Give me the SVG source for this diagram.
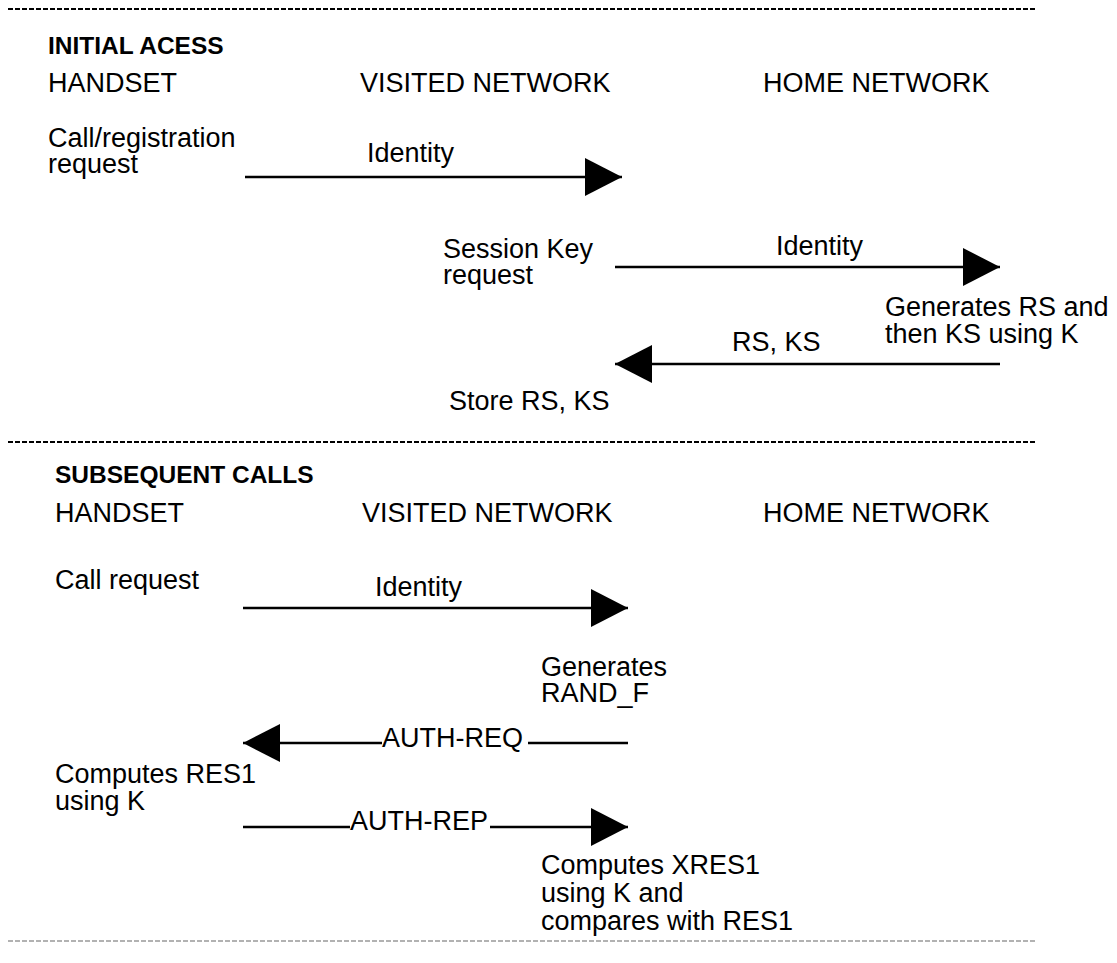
<svg xmlns="http://www.w3.org/2000/svg" width="1117" height="963" viewBox="0 0 1117 963">
<style>
text{font-family:"Liberation Sans",Arial,sans-serif;font-size:27px;fill:#000}
.b{font-weight:bold;font-size:24.5px}
.dash{stroke:#000;stroke-width:2;stroke-dasharray:5 2;fill:none}
.dash2{stroke:#999;stroke-width:1.5;stroke-dasharray:5 2;fill:none}
.c{stroke:#000;stroke-width:2.5;fill:none;marker-end:url(#ah)}
.p{stroke:#000;stroke-width:2.5;fill:none}
</style>
<defs>
<marker id="ah" markerUnits="userSpaceOnUse" markerWidth="40" markerHeight="40" refX="37" refY="19" orient="auto">
<path d="M0,0 L37,19 L0,38 Z" fill="#000"/>
</marker>
</defs>
<rect width="1117" height="963" fill="#fff"/>
<g id="separators">
<line class="dash" x1="8" y1="9" x2="1035" y2="9"/>
<line class="dash" x1="8" y1="442" x2="1035" y2="442"/>
<line class="dash2" x1="8" y1="941" x2="1035" y2="941"/>
</g>
<g id="initial-access">
<text class="b" x="48" y="54">INITIAL ACESS</text>
<text x="48" y="92">HANDSET</text>
<text x="360" y="92">VISITED NETWORK</text>
<text x="763" y="92">HOME NETWORK</text>
</g>
<g id="call-registration"><text x="48" y="147">Call/registration<tspan x="48" dy="26">request</tspan></text></g>
<g id="session-key"><text x="443" y="258">Session Key<tspan x="443" dy="26">request</tspan></text></g>
<g id="generates-rs"><text x="885" y="316">Generates RS and<tspan x="885" dy="27">then KS using K</tspan></text></g>
<g id="store-rs"><text x="449" y="410">Store RS, KS</text></g>
<g id="subsequent-calls">
<text class="b" x="55" y="483">SUBSEQUENT CALLS</text>
<text x="55" y="522">HANDSET</text>
<text x="362" y="522">VISITED NETWORK</text>
<text x="763" y="522">HOME NETWORK</text>
</g>
<g id="call-request"><text x="55" y="589">Call request</text></g>
<g id="generates-rand"><text x="541" y="676">Generates<tspan x="541" dy="26">RAND_F</tspan></text></g>
<g id="computes-res1"><text x="55" y="783">Computes RES1<tspan x="55" dy="27">using K</tspan></text></g>
<g id="computes-xres1"><text x="541" y="874">Computes XRES1<tspan x="541" dy="28">using K and</tspan><tspan x="541" dy="28">compares with RES1</tspan></text></g>
<g id="connectors">
<line class="c" x1="245" y1="177" x2="622" y2="177"/>
<text x="367" y="162">Identity</text>
<line class="c" x1="615" y1="267" x2="1000" y2="267"/>
<text x="776" y="255">Identity</text>
<line class="c" x1="1000" y1="364" x2="615" y2="364"/>
<text x="732" y="351">RS, KS</text>
<line class="c" x1="243" y1="608" x2="628" y2="608"/>
<text x="375" y="596">Identity</text>
<line class="p" x1="628" y1="743" x2="528" y2="743"/>
<line class="c" x1="382" y1="743" x2="243" y2="743"/>
<text x="382" y="747">AUTH-REQ</text>
<line class="p" x1="243" y1="827" x2="350" y2="827"/>
<line class="c" x1="490" y1="827" x2="628" y2="827"/>
<text x="350" y="830">AUTH-REP</text>
</g>
</svg>
